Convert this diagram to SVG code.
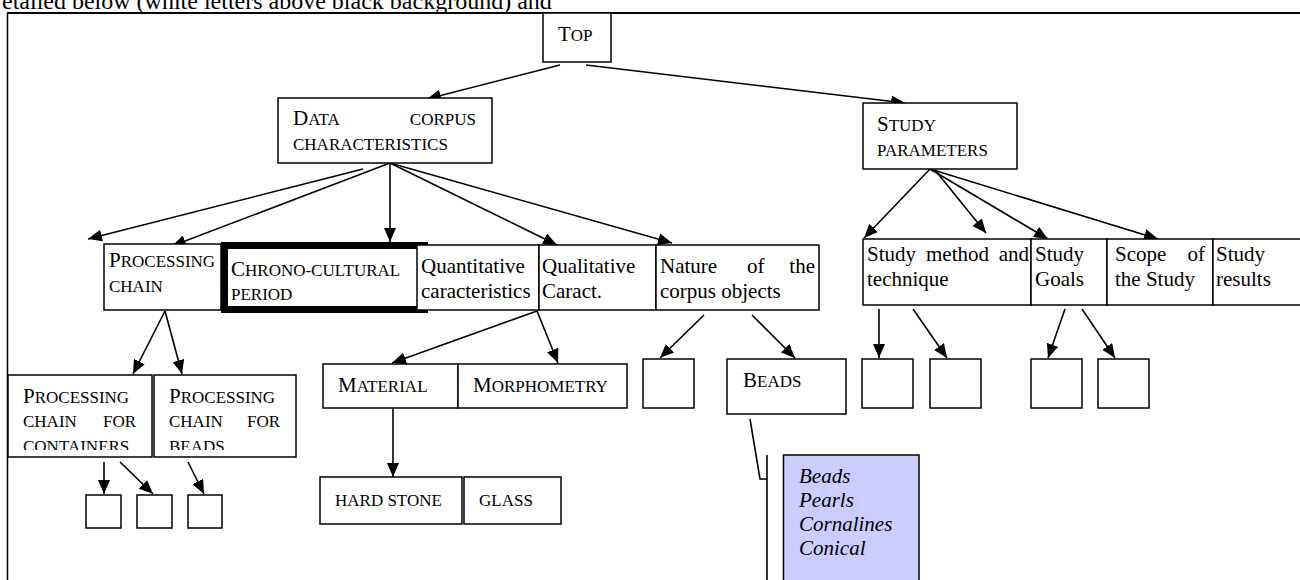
<svg xmlns="http://www.w3.org/2000/svg" width="1300" height="580" viewBox="0 0 1300 580">
<style>
.box{fill:#fff;stroke:#000;stroke-width:1.5}
.t{font-family:"Liberation Serif","Times New Roman",serif;font-size:21px;fill:#000}
.sc{font-size:17px}
.it{font-style:italic}
.c{stroke:#000;stroke-width:1.6;fill:none}
</style>
<defs>
<marker id="ah" markerUnits="userSpaceOnUse" markerWidth="14" markerHeight="12" refX="14" refY="6" orient="auto">
<path d="M0,0 L14,6 L0,12 z" fill="#000"/>
</marker>
<clipPath id="clipL"><rect x="8" y="375" width="288" height="75"/></clipPath>
</defs>
<text class="t" x="2" y="9" style="font-size:24px">etailed below (white letters above black background) and</text>
<g id="frame">
<line x1="7" y1="13" x2="1300" y2="13" stroke="#000" stroke-width="2"/>
<line x1="7.5" y1="13" x2="7.5" y2="580" stroke="#000" stroke-width="1.5"/>
</g>
<g id="connectors">
<line class="c" x1="560" y1="65" x2="427" y2="99" marker-end="url(#ah)"/>
<line class="c" x1="586" y1="65" x2="905" y2="103" marker-end="url(#ah)"/>
<line class="c" x1="363" y1="169" x2="88" y2="239" marker-end="url(#ah)"/>
<line class="c" x1="390" y1="163" x2="172" y2="246" marker-end="url(#ah)"/>
<line class="c" x1="390" y1="163" x2="390" y2="242" marker-end="url(#ah)"/>
<line class="c" x1="390" y1="163" x2="557" y2="245" marker-end="url(#ah)"/>
<line class="c" x1="390" y1="163" x2="672" y2="243" marker-end="url(#ah)"/>
<line class="c" x1="930" y1="169" x2="864" y2="238" marker-end="url(#ah)"/>
<line class="c" x1="935" y1="170" x2="986" y2="233" marker-end="url(#ah)"/>
<line class="c" x1="930" y1="169" x2="1048" y2="239" marker-end="url(#ah)"/>
<line class="c" x1="930" y1="169" x2="1158" y2="239" marker-end="url(#ah)"/>
<line class="c" x1="165" y1="311" x2="133" y2="374" marker-end="url(#ah)"/>
<line class="c" x1="165" y1="311" x2="182" y2="374" marker-end="url(#ah)"/>
<line class="c" x1="104" y1="462" x2="104" y2="494" marker-end="url(#ah)"/>
<line class="c" x1="120" y1="462" x2="153" y2="494" marker-end="url(#ah)"/>
<line class="c" x1="188" y1="462" x2="204" y2="494" marker-end="url(#ah)"/>
<line class="c" x1="537" y1="311" x2="392" y2="363" marker-end="url(#ah)"/>
<line class="c" x1="537" y1="311" x2="558" y2="363" marker-end="url(#ah)"/>
<line class="c" x1="393" y1="408" x2="393" y2="477" marker-end="url(#ah)"/>
<line class="c" x1="704" y1="315" x2="660" y2="358" marker-end="url(#ah)"/>
<line class="c" x1="752" y1="315" x2="795" y2="358" marker-end="url(#ah)"/>
<line class="c" x1="879" y1="309" x2="879" y2="358" marker-end="url(#ah)"/>
<line class="c" x1="913" y1="309" x2="947" y2="358" marker-end="url(#ah)"/>
<line class="c" x1="1065" y1="309" x2="1048" y2="358" marker-end="url(#ah)"/>
<line class="c" x1="1082" y1="309" x2="1115" y2="358" marker-end="url(#ah)"/>
<polyline class="c" points="750,419 760,479 767,479"/>
<line class="c" x1="767" y1="455" x2="767" y2="580"/>
</g>
<g id="top"><rect class="box" x="543" y="13" width="68" height="49"/>
<text class="t" x="558" y="41">T<tspan class="sc">OP</tspan></text></g>
<g id="data-corpus"><rect class="box" x="278" y="98" width="214" height="65"/>
<text class="t" x="293" y="125">D<tspan class="sc">ATA</tspan></text>
<text class="t sc" x="476" y="125" text-anchor="end">CORPUS</text>
<text class="t sc" x="293" y="150">CHARACTERISTICS</text></g>
<g id="study-parameters"><rect class="box" x="863" y="103" width="154" height="66"/>
<text class="t" x="877" y="131">S<tspan class="sc">TUDY</tspan></text>
<text class="t sc" x="877" y="156">PARAMETERS</text></g>
<g id="processing-chain"><rect class="box" x="104" y="244" width="117" height="66"/>
<text class="t" x="109" y="267">P<tspan class="sc">ROCESSING</tspan></text>
<text class="t sc" x="109" y="292">CHAIN</text></g>
<g id="chrono"><rect x="224.5" y="245.5" width="200" height="64" fill="#fff" stroke="#000" stroke-width="7"/>
<text class="t" x="231" y="276">C<tspan class="sc">HRONO-CULTURAL</tspan></text>
<text class="t sc" x="231" y="300">PERIOD</text></g>
<g id="quantitative"><rect class="box" x="417" y="245" width="122" height="65"/>
<text class="t" x="421" y="273">Quantitative</text>
<text class="t" x="421" y="298">caracteristics</text></g>
<g id="qualitative"><rect class="box" x="539" y="245" width="117" height="65"/>
<text class="t" x="542" y="273">Qualitative</text>
<text class="t" x="542" y="298">Caract.</text></g>
<g id="nature"><rect class="box" x="656" y="245" width="163" height="65"/>
<text class="t" x="660" y="273">Nature</text>
<text class="t" x="747" y="273">of</text>
<text class="t" x="815" y="273" text-anchor="end">the</text>
<text class="t" x="660" y="298">corpus objects</text></g>
<g id="study-method"><rect class="box" x="863" y="239" width="168" height="66"/>
<text class="t" x="867" y="261">Study</text>
<text class="t" x="926" y="261">method</text>
<text class="t" x="1029" y="261" text-anchor="end">and</text>
<text class="t" x="867" y="286">technique</text></g>
<g id="study-goals"><rect class="box" x="1031" y="239" width="76" height="66"/>
<text class="t" x="1035" y="261">Study</text>
<text class="t" x="1035" y="286">Goals</text></g>
<g id="scope"><rect class="box" x="1107" y="239" width="106" height="66"/>
<text class="t" x="1115" y="261">Scope</text>
<text class="t" x="1205" y="261" text-anchor="end">of</text>
<text class="t" x="1115" y="286">the Study</text></g>
<g id="study-results"><rect class="box" x="1213" y="239" width="100" height="66"/>
<text class="t" x="1216" y="261">Study</text>
<text class="t" x="1216" y="286">results</text></g>
<g id="pc-containers"><rect class="box" x="8" y="375" width="144" height="82"/>
<g clip-path="url(#clipL)">
<text class="t" x="23" y="403">P<tspan class="sc">ROCESSING</tspan></text>
<text class="t sc" x="23" y="427">CHAIN</text>
<text class="t sc" x="136" y="427" text-anchor="end">FOR</text>
<text class="t sc" x="23" y="452">CONTAINERS</text></g></g>
<g id="pc-beads"><rect class="box" x="154" y="375" width="142" height="82"/>
<g clip-path="url(#clipL)">
<text class="t" x="169" y="403">P<tspan class="sc">ROCESSING</tspan></text>
<text class="t sc" x="169" y="427">CHAIN</text>
<text class="t sc" x="280" y="427" text-anchor="end">FOR</text>
<text class="t sc" x="169" y="452">BEADS</text></g></g>
<g id="sb1"><rect class="box" x="86" y="495" width="35" height="33"/></g>
<g id="sb2"><rect class="box" x="137" y="495" width="35" height="33"/></g>
<g id="sb3"><rect class="box" x="188" y="495" width="34" height="33"/></g>
<g id="material"><rect class="box" x="323" y="364" width="135" height="44"/>
<text class="t" x="338" y="392">M<tspan class="sc">ATERIAL</tspan></text></g>
<g id="morphometry"><rect class="box" x="458" y="364" width="169" height="44"/>
<text class="t" x="473" y="392">M<tspan class="sc">ORPHOMETRY</tspan></text></g>
<g id="hard-stone"><rect class="box" x="320" y="477" width="142" height="47"/>
<text class="t sc" x="335" y="506">HARD STONE</text></g>
<g id="glass"><rect class="box" x="464" y="477" width="97" height="47"/>
<text class="t sc" x="479" y="506">GLASS</text></g>
<g id="empty-nature"><rect class="box" x="643" y="359" width="51" height="49"/></g>
<g id="beads"><rect class="box" x="727" y="359" width="119" height="55"/>
<text class="t" x="743" y="387">B<tspan class="sc">EADS</tspan></text></g>
<g id="sb4"><rect class="box" x="862" y="359" width="51" height="49"/></g>
<g id="sb5"><rect class="box" x="930" y="359" width="51" height="49"/></g>
<g id="sb6"><rect class="box" x="1031" y="359" width="51" height="49"/></g>
<g id="sb7"><rect class="box" x="1098" y="359" width="51" height="49"/></g>
<g id="beads-list"><rect x="783.5" y="455" width="135.5" height="140" fill="#ccccff" stroke="#000" stroke-width="1.5"/>
<text class="t it" x="799" y="483">Beads</text>
<text class="t it" x="799" y="507">Pearls</text>
<text class="t it" x="799" y="531">Cornalines</text>
<text class="t it" x="799" y="555">Conical</text></g>
</svg>
